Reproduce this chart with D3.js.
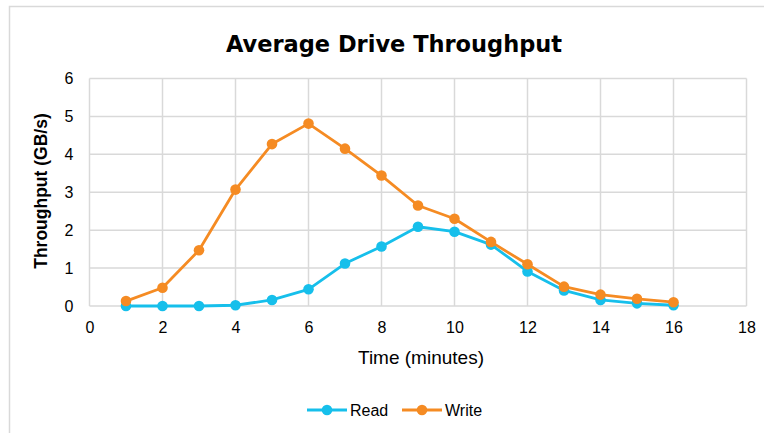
<!DOCTYPE html>
<html><head><meta charset="utf-8">
<script src="https://cdn.jsdelivr.net/npm/d3@7"></script>
<style>body{margin:0;background:#fff}svg{display:block}</style>
</head><body>
<svg id="c" width="764" height="433"></svg>
<script>
const minutes = [1,2,3,4,5,6,7,8,9,10,11,12,13,14,15,16];
const readValues = [0,0,0,0.02,0.16,0.44,1.12,1.57,2.09,1.96,1.62,0.91,0.41,0.16,0.07,0.02];
const writeValues = [0.13,0.48,1.47,3.07,4.27,4.81,4.15,3.44,2.65,2.30,1.69,1.10,0.51,0.30,0.19,0.10];
const xTicks = [0,2,4,6,8,10,12,14,16,18];
const yTicks = [0,1,2,3,4,5,6];
const seriesNames = ["Read","Write"];
const colors = ["#16bfeb","#f58b23"];

const svg = d3.select("#c");
const L=89.5, R=746.5, T=78.5, B=306;
const x = d3.scaleLinear().domain([0,18]).range([L,R]);
const y = d3.scaleLinear().domain([0,6]).range([B,T]);
const font = "'Liberation Sans', Arial, sans-serif";

// outer border
svg.append("rect").attr("x",9.5).attr("y",6.5).attr("width",800).attr("height",500)
  .attr("fill","none").attr("stroke","#d9d9d9").attr("stroke-width",1.5);

// title
svg.append("text").attr("x",394).attr("y",52).attr("text-anchor","middle")
  .attr("font-family","'DejaVu Sans', sans-serif").attr("font-weight","bold")
  .attr("font-size",22.5).attr("fill","#000").text("Average Drive Throughput");

// grid
const g = svg.append("g");
g.selectAll(".h").data(yTicks).join("line").attr("x1",L).attr("x2",R)
  .attr("y1",d=>y(d)).attr("y2",d=>y(d)).attr("stroke","#d9d9d9").attr("stroke-width",1.5);
g.selectAll(".v").data(xTicks).join("line").attr("y1",T).attr("y2",B)
  .attr("x1",d=>x(d)).attr("x2",d=>x(d)).attr("stroke","#d9d9d9").attr("stroke-width",1.5);

// axes with d3 axis for labels
const xa = svg.append("g").attr("transform",`translate(0,${B})`)
  .call(d3.axisBottom(x).tickValues(xTicks).tickFormat(d3.format("d")).tickSize(0).tickPadding(16));
const ya = svg.append("g").attr("transform",`translate(${L},0)`)
  .call(d3.axisLeft(y).tickValues(yTicks).tickFormat(d3.format("d")).tickSize(0).tickPadding(16));
[xa,ya].forEach(a=>{a.select(".domain").remove();
  a.selectAll("text").attr("font-family",font).attr("font-size",16).attr("fill","#000");});

// axis titles
svg.append("text").attr("x",421).attr("y",364).attr("text-anchor","middle")
  .attr("font-family",font).attr("font-size",19).attr("fill","#000").text("Time (minutes)");
svg.append("text").attr("transform","translate(47,191) rotate(-90)").attr("text-anchor","middle")
  .attr("font-family",font).attr("font-weight","bold").attr("font-size",17.5).attr("fill","#000").text("Throughput (GB/s)");

// series
const series = [readValues, writeValues];
const line = d3.line().x((d,i)=>x(minutes[i])).y(d=>y(d));
series.forEach((vals,si)=>{
  svg.append("path").datum(vals).attr("d",line).attr("fill","none")
    .attr("stroke",colors[si]).attr("stroke-width",2.8).attr("stroke-linejoin","round");
  svg.append("g").selectAll("circle").data(vals).join("circle")
    .attr("cx",(d,i)=>x(minutes[i])).attr("cy",d=>y(d)).attr("r",5.3).attr("fill",colors[si]);
});

// legend
const lg = svg.append("g");
const legX = [307, 402];
seriesNames.forEach((n,i)=>{
  const lx = legX[i], ly = 410;
  lg.append("line").attr("x1",lx).attr("x2",lx+40).attr("y1",ly).attr("y2",ly)
    .attr("stroke",colors[i]).attr("stroke-width",2.8);
  lg.append("circle").attr("cx",lx+20).attr("cy",ly).attr("r",5.3).attr("fill",colors[i]);
  lg.append("text").attr("x",lx+43).attr("y",ly+6).attr("font-family",font).attr("font-size",16)
    .attr("fill","#000").text(n);
});
</script>
</body></html>
